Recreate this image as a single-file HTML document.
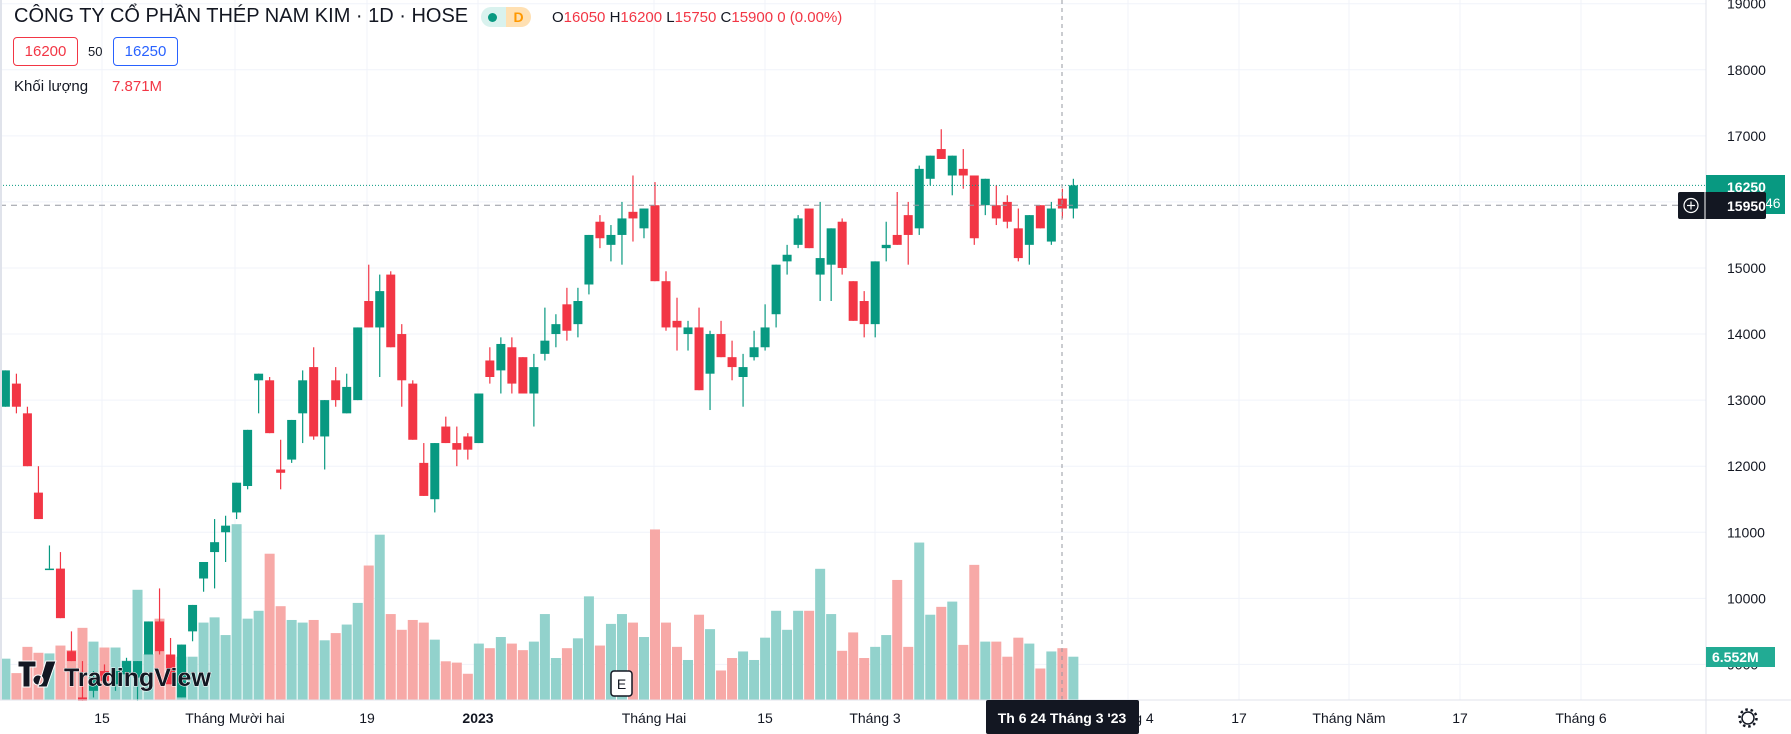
<!DOCTYPE html>
<html><head><meta charset="utf-8">
<style>
html,body{margin:0;padding:0;background:#fff;}
body{width:1791px;height:734px;overflow:hidden;position:relative;font-family:"Liberation Sans","Noto Sans CJK SC",sans-serif;}
svg{position:absolute;left:0;top:0;}
.t{font-family:"Liberation Sans",sans-serif;}
</style></head>
<body>
<svg id="chart" width="1791" height="734"></svg>
<script>
const opens=[12900,13250,12800,11600,10450,10450,9200,8500,8600,8900,8700,8850,8800,9150,9650,9150,8500,9500,10300,10700,11000,11300,11700,13300,13300,11950,12100,12800,13500,12450,13300,12800,13000,14500,14100,14900,14000,13250,12050,11500,12600,12350,12450,12350,13600,13450,13800,13650,13100,13700,14000,14450,14150,14750,15700,15350,15500,15850,15600,15950,14800,14200,14000,14100,13400,14000,13650,13350,13650,13800,14300,15100,15350,15900,14900,15050,15700,14800,14500,14150,15300,15500,15800,15600,16350,16800,16400,16500,16400,15950,15950,16000,15600,15350,15950,15400,16050,15900];
const highs=[13450,13400,12900,12000,10800,10700,9500,9050,8900,9000,8950,9100,9050,9650,10150,9400,9300,9900,10550,11200,11250,11750,12550,13400,13350,12400,12700,13450,13800,13000,13500,13400,14100,15050,14900,14950,14150,13300,12350,12350,12750,12600,12500,13100,13800,13950,13950,13650,13700,14400,14300,14700,14700,15500,15800,15650,16000,16400,15900,16300,14950,14550,14200,14400,14050,14200,13900,13700,14050,14450,15050,15350,15800,15900,16000,15600,15750,14800,14650,15100,15700,16150,16000,16550,16700,17100,16700,16800,16400,16350,16250,16100,15900,15800,15950,16000,16200,16350];
const lows=[12900,12800,12000,11200,10450,9700,9050,8450,8500,8700,8600,8700,8450,9150,9150,8700,8500,9350,10100,10150,10550,11200,11650,12800,12500,11650,12050,12350,12400,11950,12900,12800,13000,14100,13350,13800,12900,12400,11550,11300,12350,12000,12100,12350,13250,13100,13100,13100,12600,13600,13800,13900,13950,14600,15300,15100,15050,15400,15450,14800,14050,13750,13750,13150,12850,13650,13300,12900,13600,13750,14100,14900,15300,15300,14500,14500,14900,14200,13950,13950,15100,15350,15050,15500,16250,16650,16100,16200,15350,15800,15650,15600,15100,15050,15600,15350,15750,15750];
const closes=[13450,12900,12000,11200,10450,9700,9050,8450,8800,8750,8900,9050,9050,9650,9200,8700,9300,9900,10550,10850,11100,11750,12550,13400,12500,11900,12700,13300,12450,13000,13000,13200,14100,14100,14650,13800,13300,12400,11550,12350,12350,12250,12250,13100,13350,13850,13250,13100,13500,13900,14150,14050,14500,15500,15450,15500,15750,15750,15900,14800,14100,14100,14100,13150,14000,13650,13500,13500,13800,14100,15050,15200,15750,15300,15150,15600,15000,14200,14150,15100,15350,15350,15500,16500,16700,16650,16700,16400,15450,16350,15750,15700,15150,15800,15600,15900,15900,16250];
const volumes=[6.3,4.1,8.1,7.2,7.1,8.3,7.6,11.0,8.9,8.0,8.0,6.0,16.8,7.0,12.4,6.9,6.6,6.6,11.8,12.6,9.9,26.8,12.4,13.6,22.3,14.3,12.2,11.8,12.2,9.1,10.2,11.5,14.8,20.5,25.2,13.1,10.7,12.2,11.8,9.2,5.9,5.7,4.0,8.6,7.9,9.6,8.6,7.6,8.9,13.1,6.4,7.9,9.4,15.8,8.3,11.6,13.1,11.8,9.6,26.0,11.8,8.1,6.1,13.0,10.8,4.5,6.4,7.4,6.1,9.5,13.6,10.7,13.6,13.6,20.0,13.1,7.5,10.3,6.4,8.1,9.9,18.3,8.1,24.0,13.0,14.2,15.0,8.4,20.6,8.9,8.9,6.6,9.5,8.6,4.8,7.4,7.9,6.6];
const priceTicks=[19000,18000,17000,16000,15000,14000,13000,12000,11000,10000,9000];
const timeLabels=["15","Tháng Mười hai","19","2023","Tháng Hai","15","Tháng 3","Tháng 4","17","Tháng Năm","17","Tháng 6"];
const timeLabelX=[102,235,367,478,654,765,875,1128,1239,1349,1460,1581];

const NS="http://www.w3.org/2000/svg";
const svg=document.getElementById('chart');
const PW=1706, AXY=700;
function y(p){return 3.7+(19000-p)*0.06607;}
function xi(i){return 5.4+i*11.01;}
function vy(v){return AXY-v*6.56;}
function mk(tag,attrs,parent){const e=document.createElementNS(NS,tag);for(const k in attrs)e.setAttribute(k,attrs[k]);(parent||svg).appendChild(e);return e;}

const grid=mk('g',{});


priceTicks.forEach(p=>{const l=mk('line',{x1:0,x2:PW,y1:y(p),y2:y(p),stroke:'#f0f3fa','stroke-width':1},grid);

});
timeLabelX.forEach(x=>{const l=mk('line',{x1:x,x2:x,y1:0,y2:AXY,stroke:'#f0f3fa','stroke-width':1},grid);

});

const vg=mk('g',{});


volumes.forEach((v,i)=>{const up=closes[i]>=opens[i];
const r=mk('rect',{x:xi(i)-5,y:vy(v),width:10,height:AXY-vy(v),fill:up?'#92d2cc':'#f7a9a7'},vg);

});

const cg=mk('g',{});


opens.forEach((o,i)=>{const c=closes[i];const up=c>=o;const col=up?'#089981':'#f23645';
const g=mk('g',{},cg);


const x=xi(i);
mk('line',{x1:x,x2:x,y1:y(highs[i]),y2:y(lows[i]),stroke:col,'stroke-width':1.2},g);
const t=y(Math.max(o,c)),b=y(Math.min(o,c));
mk('rect',{x:x-4.5,y:t,width:9,height:Math.max(1.5,b-t),fill:col},g);});

const pl=mk('line',{x1:0,x2:PW,y1:y(16250),y2:y(16250),stroke:'#089981','stroke-width':1,'stroke-dasharray':'1 2'});


const ch=mk('line',{x1:0,x2:PW,y1:y(15950),y2:y(15950),stroke:'#9598a1','stroke-width':1,'stroke-dasharray':'6 5'});


const cv=mk('line',{x1:1062,x2:1062,y1:0,y2:AXY,stroke:'#9598a1','stroke-width':1,'stroke-dasharray':'4 4'});



const ax=mk('line',{x1:0,x2:1791,y1:AXY,y2:AXY,stroke:'#e0e3eb','stroke-width':1});


const ay=mk('line',{x1:PW,x2:PW,y1:0,y2:734,stroke:'#e0e3eb','stroke-width':1});


const lb=mk('line',{x1:1,x2:1,y1:0,y2:AXY,stroke:'#e0e3eb','stroke-width':2});



priceTicks.forEach(p=>{const t=mk('text',{x:1727,y:y(p)+5,'font-size':14,fill:'#131722',class:'t'});t.textContent=p;

});
timeLabels.forEach((s,i)=>{const t=mk('text',{x:timeLabelX[i],y:723,'font-size':14,fill:'#131722','text-anchor':'middle',class:'t','font-weight':s==='2023'?'bold':'normal'});t.textContent=s;

});
</script>

<svg width="1791" height="734" style="pointer-events:none">
  <g>
    <rect x="1706" y="175" width="79" height="39" fill="#089981"/>
    <text x="1727" y="192" font-size="14" font-weight="bold" fill="#fff" class="t">16250</text>
    <text x="1765" y="208" font-size="14" fill="#fff" class="t">46</text>
  </g>
  <g>
    <rect x="1678" y="192" width="88" height="27" fill="#131722" rx="2"/>
    <circle cx="1691" cy="205.5" r="7" fill="none" stroke="#fff" stroke-width="1.2"/>
    <line x1="1687" x2="1695" y1="205.5" y2="205.5" stroke="#fff" stroke-width="1.2"/>
    <line x1="1691" x2="1691" y1="201.5" y2="209.5" stroke="#fff" stroke-width="1.2"/>
    <line x1="1705" x2="1705" y1="192" y2="219" stroke="#fff" stroke-width="1"/>
    <text x="1727" y="211" font-size="14" font-weight="bold" fill="#fff" class="t">15950</text>
  </g>
  <g>
    <rect x="1706" y="647" width="69" height="20" fill="#22ab94"/>
    <text x="1712" y="662" font-size="14" font-weight="bold" fill="#fff" class="t">6.552M</text>
  </g>
  <g>
    <rect x="986" y="700" width="153" height="34" fill="#131722" rx="2"/>
    <text x="1062" y="723" font-size="14" font-weight="bold" fill="#fff" text-anchor="middle" class="t">Th 6 24 Tháng 3 '23</text>
  </g>
  <g>
    <rect x="611" y="671" width="21" height="25" rx="3" fill="#fff" stroke="#131722" stroke-width="1.5"/>
    <text x="621.5" y="689" font-size="14" text-anchor="middle" fill="#131722" class="t">E</text>
  </g>
  <g>
    <path d="M18 661h18v6h-6v20h-7v-20h-5z M38 675a5 5 0 1 0 0.1 0z M46 661h10l-9 26h-9z" fill="#131722" stroke="#fff" stroke-width="1"/>
    <text x="64" y="686" font-size="25" font-weight="bold" fill="#131722" stroke="#fff" stroke-width="1" paint-order="stroke" class="t">TradingView</text>
  </g>
  <g>
    <circle cx="1748" cy="718" r="6" fill="none" stroke="#131722" stroke-width="1.5"/>
    <circle cx="1748" cy="718" r="8.5" fill="none" stroke="#131722" stroke-width="2.5" stroke-dasharray="2.5 2.8"/>
  </g>
</svg>

<div style="position:absolute;left:14px;top:5px;font-size:20px;color:#131722;white-space:nowrap;">CÔNG TY CỔ PHẦN THÉP NAM KIM · 1D · HOSE</div>
<div style="position:absolute;left:481px;top:7px;width:50px;height:20px;border-radius:10px;overflow:hidden;display:flex;">
  <div style="width:25px;background:#d9f2ee;position:relative;"><span style="position:absolute;left:7px;top:6px;width:9px;height:9px;border-radius:50%;background:#089981;"></span></div>
  <div style="width:25px;background:#ffe0b2;color:#ff9800;font-size:14px;font-weight:bold;text-align:center;line-height:20px;">D</div>
</div>
<div style="position:absolute;left:552px;top:9px;font-size:15px;color:#f23645;white-space:nowrap;">
  <span style="color:#131722">O</span>16050 <span style="color:#131722">H</span>16200 <span style="color:#131722">L</span>15750 <span style="color:#131722">C</span>15900 0 (0.00%)
</div>
<div style="position:absolute;left:13px;top:37px;width:63px;height:27px;border:1px solid #f23645;border-radius:4px;color:#f23645;font-size:15px;text-align:center;line-height:27px;">16200</div>
<div style="position:absolute;left:88px;top:44px;font-size:13px;color:#131722;">50</div>
<div style="position:absolute;left:113px;top:37px;width:63px;height:27px;border:1px solid #2962ff;border-radius:4px;color:#2962ff;font-size:15px;text-align:center;line-height:27px;">16250</div>
<div style="position:absolute;left:14px;top:78px;font-size:15px;color:#131722;">Khối lượng</div>
<div style="position:absolute;left:112px;top:78px;font-size:15px;color:#f23645;">7.871M</div>
</body></html>
